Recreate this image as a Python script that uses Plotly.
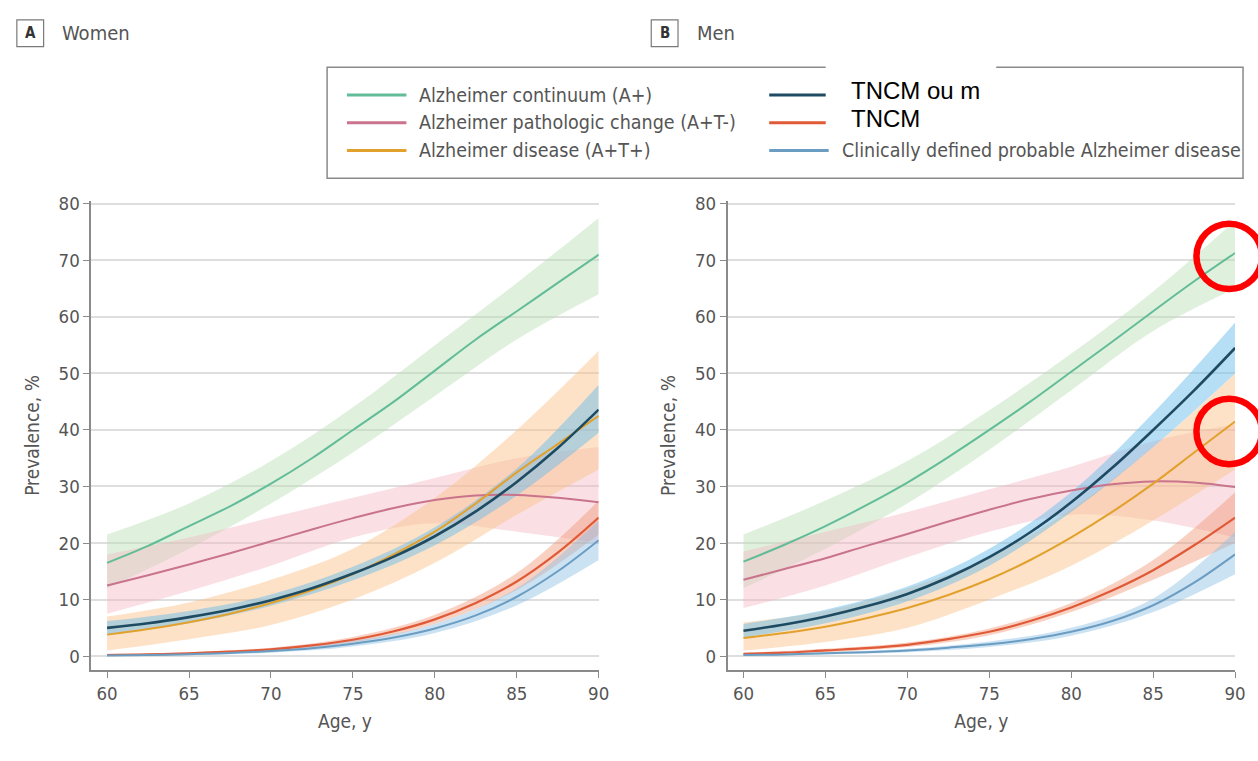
import plotly.graph_objects as go

W, H = 1258, 761

# ---------------- data ----------------
ages_line = [60, 62.5, 65, 67.5, 70, 72.5, 75, 77.5, 80, 82.5, 85, 87.5, 90]
ages_band = [60, 65, 70, 75, 80, 85, 90]

series_names = [
    "Alzheimer continuum (A+)",
    "Alzheimer pathologic change (A+T-)",
    "Alzheimer disease (A+T+)",
    "TNCM ou m",
    "TNCM",
    "Clinically defined probable Alzheimer disease",
]

# Women
w_ap = [16.5, 19.5, 23, 26.5, 30.5, 35, 40, 45, 50.5, 56, 61, 66, 71]
w_ap_lo = [12, 19, 27, 36, 46, 56, 64]
w_ap_hi = [21.5, 27, 34.5, 44, 55, 66, 77.5]

w_atm = [12.5, 14.3, 16.2, 18.2, 20.3, 22.4, 24.4, 26.2, 27.6, 28.4, 28.5, 28.0, 27.2]
w_atm_lo = [7.5, 11.5, 16, 21, 23.5, 22, 20]
w_atm_hi = [18, 21, 24.5, 28, 31.5, 35, 37]

w_atp = [3.8, 4.8, 6, 7.5, 9.4, 11.7, 14.5, 18, 22, 27, 32.5, 37.5, 42.5]
w_atp_lo = [1, 3, 5.5, 10, 16.5, 25, 33]
w_atp_hi = [7, 9.5, 13.5, 19, 28, 40, 54]

w_ncm = [5, 5.8, 6.9, 8.2, 9.9, 12, 14.6, 17.6, 21.2, 25.6, 30.8, 36.8, 43.6]
w_ncm_lo = [3.8, 5.8, 8.9, 13.4, 19.6, 28.4, 39.5]
w_ncm_hi = [6.2, 8.0, 10.9, 15.8, 22.8, 33.2, 48]

w_dem = [0.2, 0.3, 0.5, 0.8, 1.2, 1.9, 2.9, 4.4, 6.5, 9.4, 13.2, 18.3, 24.5]
w_dem_lo = [0.05, 0.3, 0.9, 2.4, 5.7, 11.7, 21.5]
w_dem_hi = [0.4, 0.7, 1.5, 3.4, 7.3, 14.7, 27.5]

w_cli = [0.1, 0.2, 0.35, 0.55, 0.9, 1.4, 2.2, 3.3, 4.9, 7.2, 10.5, 15, 20.5]
w_cli_lo = [0.0, 0.2, 0.6, 1.7, 4.1, 9.0, 17]
w_cli_hi = [0.3, 0.5, 1.2, 2.7, 5.7, 12.0, 24]

# Men
m_ap = [16.7, 19.7, 23, 26.7, 30.7, 35.2, 40, 45, 50.3, 55.6, 61, 66.3, 71.3]
m_ap_lo = [12, 19, 27, 36.5, 47, 57.5, 65]
m_ap_hi = [21.5, 27.5, 34.5, 43.5, 53.5, 64.5, 77]

m_atm = [13.5, 15.4, 17.3, 19.5, 21.6, 23.8, 25.9, 27.8, 29.3, 30.4, 30.9, 30.7, 29.9]
m_atm_lo = [8.5, 12.5, 17.5, 22, 25, 24, 21]
m_atm_hi = [18.5, 22, 25.5, 29.5, 33.5, 38, 41]

m_atp = [3.2, 4.1, 5.2, 6.7, 8.5, 10.8, 13.6, 17, 21, 25.5, 30.5, 36, 41.5]
m_atp_lo = [1, 2.5, 5, 10, 16, 24, 33]
m_atp_hi = [6, 8, 12, 17.5, 26, 37, 50]

m_ncm = [4.5, 5.6, 7, 8.8, 11, 13.9, 17.5, 21.9, 27.2, 33.3, 40, 47, 54.5]
m_ncm_lo = [3.3, 5.8, 9.7, 16, 25.5, 37, 50]
m_ncm_hi = [5.7, 8.2, 12.3, 19, 29, 43, 59]

m_dem = [0.4, 0.6, 1, 1.4, 2, 3, 4.3, 6.2, 8.6, 11.6, 15.2, 19.6, 24.5]
m_dem_lo = [0.2, 0.7, 1.6, 3.7, 7.8, 13.5, 20]
m_dem_hi = [0.6, 1.3, 2.4, 4.9, 9.4, 17, 29]

m_cli = [0.2, 0.3, 0.5, 0.7, 1.0, 1.5, 2.1, 3, 4.3, 6.2, 9, 13, 18]
m_cli_lo = [0.05, 0.3, 0.7, 1.6, 3.6, 7.8, 14.5]
m_cli_hi = [0.35, 0.7, 1.3, 2.6, 5.0, 10.2, 22]

x_ticks = [60, 65, 70, 75, 80, 85, 90]
y_ticks = [0, 10, 20, 30, 40, 50, 60, 70, 80]

# ---------------- styles ----------------
line_colors = ["#62bc98", "#c9748c", "#e2a12c", "#1f4b62", "#e05a38", "#6b9dc2"]
band_colors = [
    "rgba(185,225,180,0.45)",
    "rgba(242,180,192,0.42)",
    "rgba(250,190,130,0.45)",
    "rgba(110,190,235,0.50)",
    "rgba(240,145,110,0.42)",
    "rgba(140,190,228,0.45)",
]
line_widths = [2, 2, 2, 2.6, 2.2, 2]

FONT = "DejaVu Sans Condensed, DejaVu Sans, sans-serif"
GRAY = "#555555"

women = [
    (w_ap, w_ap_lo, w_ap_hi), (w_atm, w_atm_lo, w_atm_hi), (w_atp, w_atp_lo, w_atp_hi),
    (w_ncm, w_ncm_lo, w_ncm_hi), (w_dem, w_dem_lo, w_dem_hi), (w_cli, w_cli_lo, w_cli_hi),
]
men = [
    (m_ap, m_ap_lo, m_ap_hi), (m_atm, m_atm_lo, m_atm_hi), (m_atp, m_atp_lo, m_atp_hi),
    (m_ncm, m_ncm_lo, m_ncm_hi), (m_dem, m_dem_lo, m_dem_hi), (m_cli, m_cli_lo, m_cli_hi),
]

fig = go.Figure()

def add_panel(data, xa, ya):
    # confidence bands first
    for i, (y, lo, hi) in enumerate(data):
        fig.add_trace(go.Scatter(
            x=ages_band, y=lo, mode="lines", line=dict(width=0, shape="spline"),
            hoverinfo="skip", showlegend=False, xaxis=xa, yaxis=ya))
        fig.add_trace(go.Scatter(
            x=ages_band, y=hi, mode="lines", line=dict(width=0, shape="spline"),
            fill="tonexty", fillcolor=band_colors[i],
            hoverinfo="skip", showlegend=False, xaxis=xa, yaxis=ya))
    draw_order = [0, 1, 2, 4, 5, 3]
    for i in draw_order:
        y = data[i][0]
        fig.add_trace(go.Scatter(
            x=ages_line, y=y, mode="lines", name=series_names[i],
            line=dict(color=line_colors[i], width=line_widths[i], shape="spline"),
            showlegend=False, xaxis=xa, yaxis=ya))

add_panel(women, "x", "y")
add_panel(men, "x2", "y2")

def px(v):
    return v / W

def py(v):
    return 1 - v / H

axis_common = dict(
    showline=True, linecolor="#8a8a8a", linewidth=1.5,
    ticks="outside", ticklen=6, tickcolor="#8a8a8a", tickwidth=1.2,
    tickfont=dict(family=FONT, size=18.5, color=GRAY),
    zeroline=False,
)
title_font = dict(family=FONT, size=19, color=GRAY)

xrange = [59.03, 90]
yrange = [-2.45, 80.5]

fig.update_layout(
    width=W, height=H, margin=dict(l=0, r=0, t=0, b=0),
    paper_bgcolor="white", plot_bgcolor="white",
    showlegend=False,
    xaxis=dict(domain=[px(92), px(604)], range=xrange, tickvals=x_ticks, showgrid=False,
               title=dict(text="Age, y", font=title_font, standoff=12),
               anchor="y", **axis_common),
    yaxis=dict(domain=[py(669), py(195)], range=yrange, tickvals=y_ticks, showgrid=True,
               gridcolor="#dedede", gridwidth=1.6,
               title=dict(text="Prevalence, %", font=title_font, standoff=14),
               anchor="x", **axis_common),
    xaxis2=dict(domain=[px(734), px(1246)], range=xrange, tickvals=x_ticks, showgrid=False,
                title=dict(text="Age, y", font=title_font, standoff=12),
                anchor="y2", **axis_common),
    yaxis2=dict(domain=[py(669), py(195)], range=yrange, tickvals=y_ticks, showgrid=True,
                gridcolor="#dedede", gridwidth=1.6,
                title=dict(text="Prevalence, %", font=title_font, standoff=14),
                anchor="x2", **axis_common),
)

shapes = []
annotations = []

# panel labels
for letter, bx, label in [("A", 17, "Women"), ("B", 657, "Men")]:
    shapes.append(dict(type="rect", xref="paper", yref="paper",
                       x0=px(bx), x1=px(bx + 27), y0=py(39), y1=py(12),
                       line=dict(color="#7a7a7a", width=1.2), fillcolor="white"))
    annotations.append(dict(xref="paper", yref="paper", x=px(bx + 13.5), y=py(25.5),
                            text="<b>" + letter + "</b>", showarrow=False,
                            xanchor="center", yanchor="middle",
                            font=dict(family=FONT, size=15, color="#333333")))
    annotations.append(dict(xref="paper", yref="paper", x=px(bx + 44), y=py(25.5),
                            text=label, showarrow=False, xanchor="left", yanchor="middle",
                            font=dict(family=FONT, size=20, color=GRAY)))

# legend box
shapes.append(dict(type="rect", xref="paper", yref="paper",
                   x0=px(330), x1=px(1254), y0=py(172), y1=py(60),
                   line=dict(color="#8a8a8a", width=1.5), fillcolor="white", layer="below"))
legend_pos = [(350, 88), (350, 116), (350, 144), (776, 88), (776, 116), (776, 144)]
for i, (lx, ly) in enumerate(legend_pos):
    shapes.append(dict(type="line", xref="paper", yref="paper",
                       x0=px(lx), x1=px(lx + 60), y0=py(ly), y1=py(ly),
                       line=dict(color=line_colors[i], width=3)))
    if i in (3, 4):
        continue
    annotations.append(dict(xref="paper", yref="paper", x=px(lx + 71), y=py(ly),
                            text=series_names[i], showarrow=False, xanchor="left", yanchor="middle",
                            font=dict(family=FONT, size=19.5, color=GRAY)))

# white overlay patch with replacement labels
shapes.append(dict(type="rect", xref="paper", yref="paper",
                   x0=px(833), x1=px(1005), y0=py(130), y1=py(54),
                   line=dict(width=0), fillcolor="white"))
for txt, ty in [(series_names[3], 83), (series_names[4], 112)]:
    annotations.append(dict(xref="paper", yref="paper", x=px(856), y=py(ty),
                            text=txt, showarrow=False, xanchor="left", yanchor="middle",
                            font=dict(family="Liberation Sans, Arial, sans-serif", size=24,
                                      color="#000000")))

# red highlight circles
for cy in (251, 428):
    shapes.append(dict(type="circle", xref="paper", yref="paper",
                       x0=px(1207), x1=px(1273), y0=py(cy + 33), y1=py(cy - 33),
                       line=dict(color="#ff0000", width=6.5)))

fig.update_layout(shapes=shapes, annotations=annotations)

fig.write_html("out.html")
